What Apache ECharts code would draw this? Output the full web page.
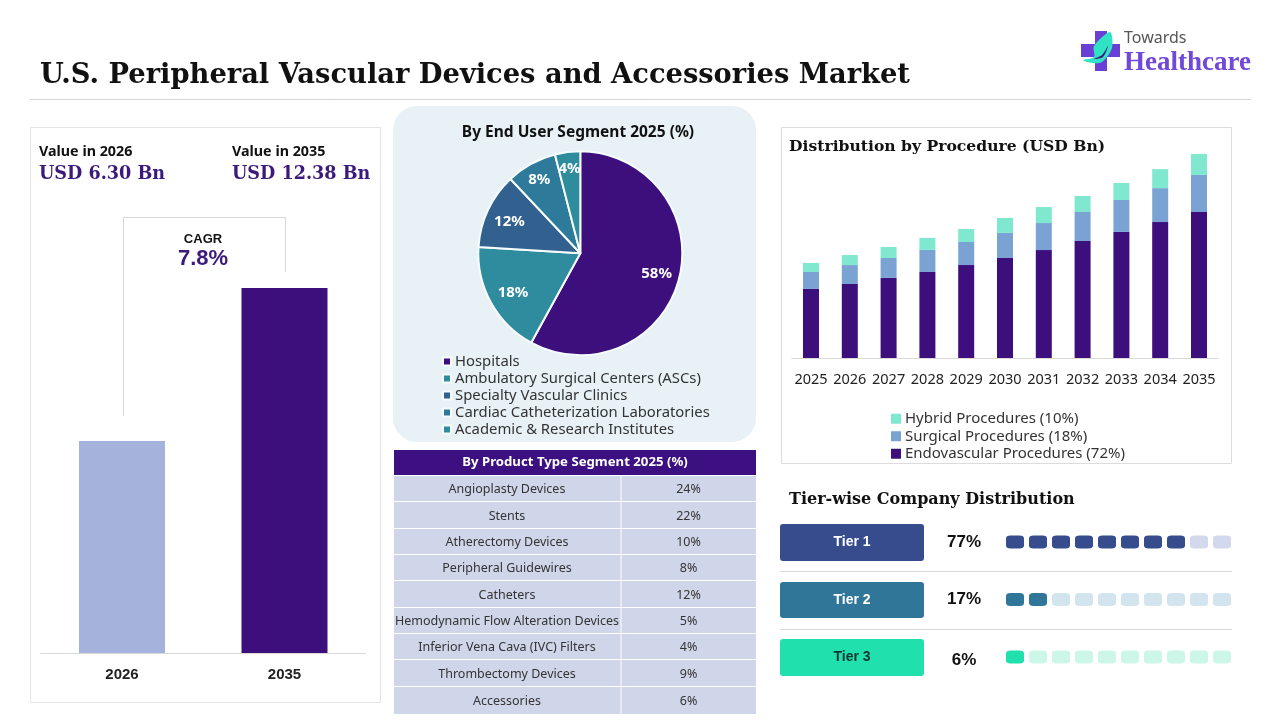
<!DOCTYPE html>
<html>
<head>
<meta charset="utf-8">
<title>U.S. Peripheral Vascular Devices and Accessories Market</title>
<script src="https://cdn.jsdelivr.net/npm/echarts@6/dist/echarts.min.js"></script>
<style>
    html, body { margin: 0; padding: 0; background: #fff; }
    #chart { width: 1280px; height: 720px; }
</style>
</head>
<body>
<div id="chart"></div>
<script>
// left panel. the label says 6.30 but the drawn 2026 bar is taller than that, so read the height off the picture
var marketYears = ['2026', '2035'];
var marketBars = [7.19, 12.38];
var marketColors = ['#a5b3dc', '#3c0f7c'];

// end user pie
var endUserNames = ['Hospitals', 'Ambulatory Surgical Centers (ASCs)', 'Specialty Vascular Clinics', 'Cardiac Catheterization Laboratories', 'Academic & Research Institutes'];
var endUserShares = [58, 18, 12, 8, 4];
var endUserColors = ['#3c0f7c', '#2e8c9e', '#33618f', '#2e7a9a', '#2f8c9c'];
var pieLabelShift = [[24, 7], [-20, 13], [-22, -9], [-15, -26], [-4, -31]];

// product table
var productNames = ['Angioplasty Devices', 'Stents', 'Atherectomy Devices', 'Peripheral Guidewires', 'Catheters', 'Hemodynamic Flow Alteration Devices', 'Inferior Vena Cava (IVC) Filters', 'Thrombectomy Devices', 'Accessories'];
var productShares = ['24%', '22%', '10%', '8%', '12%', '5%', '4%', '9%', '6%'];

// procedure stacked bars
var procYears = ['2025', '2026', '2027', '2028', '2029', '2030', '2031', '2032', '2033', '2034', '2035'];
var endovascular = [4.19, 4.49, 4.86, 5.22, 5.64, 6.07, 6.55, 7.10, 7.65, 8.25, 8.86];
var surgical = [1.03, 1.15, 1.21, 1.34, 1.40, 1.52, 1.64, 1.76, 1.94, 2.06, 2.25];
var hybrid = [0.55, 0.61, 0.67, 0.73, 0.79, 0.91, 0.97, 0.97, 1.03, 1.15, 1.27];

// tiers
var tierNames = ['Tier 1', 'Tier 2', 'Tier 3'];
var tierShares = [77, 17, 6];
var tierFilled = [8, 2, 1];
var tierColors = ['#364c8c', '#2f7698', '#20e0ae'];
var tierLight = ['#d3d9ec', '#d2e4ee', '#ccf6e8'];
var tierSlots = ['1', '2', '3', '4', '5', '6', '7', '8', '9', '10'];

var SANS = '"Noto Sans", sans-serif';
var ARIAL = '"Liberation Sans", sans-serif';
var SERIF = '"DejaVu Serif", serif';
var LOGO_SERIF = '"Liberation Serif", serif';
var PURPLE = '#3c1a7c';

function txt(text, x, y, size, weight, color, family, align) {
    return {
        type: 'text', z: 5, silent: true,
        style: {
            text: text, x: x, y: y, fill: color || '#111',
            fontSize: size, fontWeight: weight || 'normal', fontFamily: family || SANS,
            align: align || 'left', verticalAlign: 'middle'
        }
    };
}
function box(x, y, w, h, fill, stroke, r) {
    return {
        type: 'rect', z: 0, silent: true,
        shape: { x: x, y: y, width: w, height: h, r: r || 0 },
        style: { fill: fill || 'none', stroke: stroke || 'none', lineWidth: stroke ? 1 : 0 }
    };
}
function hline(x1, y1, x2, y2, color) {
    return {
        type: 'line', z: 1, silent: true,
        shape: { x1: x1, y1: y1, x2: x2, y2: y2 },
        style: { stroke: color || '#d9d9d9', lineWidth: 1 }
    };
}
function logoShape(points, color, smooth, z) {
    return { type: 'polygon', z: z, silent: true, shape: { points: points, smooth: smooth }, style: { fill: color } };
}

var graphics = [
    // header
    txt('U.S. Peripheral Vascular Devices and Accessories Market', 40, 76, 27.3, 'bold', '#111', SERIF),
    hline(30, 99.5, 1251, 99.5, '#d4d4d4'),
    // logo
    logoShape([[1095, 31], [1107, 31], [1107, 44], [1120, 44], [1120, 57], [1107, 57], [1107, 71], [1095, 71], [1095, 57], [1081, 57], [1081, 44], [1095, 44]], '#6a3fd6', 0, 5),
    logoShape([[1110, 32], [1112, 48], [1102, 62], [1092, 63], [1083, 60], [1094, 57], [1094, 46]], '#2fe3c4', 0.3, 6),
    logoShape([[1108, 46], [1102, 55], [1094, 59], [1103, 57]], '#3c1a7c', 0.3, 7),
    txt('Towards', 1124, 38, 16, 'normal', '#555', SANS),
    txt('Healthcare', 1124, 63, 27, 'bold', '#7248d8', LOGO_SERIF),

    // left panel
    box(30.5, 127.5, 350, 575, '#fff', '#e4e4e4'),
    txt('Value in 2026', 39, 152, 14.3, 'bold', '#111'),
    txt('USD 6.30 Bn', 39, 174, 17.6, 'bold', PURPLE, SERIF),
    txt('Value in 2035', 232, 152, 14.3, 'bold', '#111'),
    txt('USD 12.38 Bn', 232, 174, 17.6, 'bold', PURPLE, SERIF),
    hline(123.5, 217, 123.5, 416),
    hline(123, 217.5, 286, 217.5),
    hline(285.5, 217, 285.5, 272),
    txt('CAGR', 203, 239, 13, 'bold', '#111', ARIAL, 'center'),
    txt('7.8%', 203, 259, 22, 'bold', PURPLE, ARIAL, 'center'),

    // pie panel
    box(393, 106, 363, 336, '#e8f2f6', null, 24),
    txt('By End User Segment 2025 (%)', 578, 133, 15.5, 'bold', '#111', SANS, 'center'),

    // right panel
    box(781.5, 127.5, 450, 336, '#fff', '#dcdcdc'),
    txt('Distribution by Procedure (USD Bn)', 789, 147, 15.6, 'bold', '#111', SERIF),

    // tier section
    txt('Tier-wise Company Distribution', 789, 500, 16, 'bold', '#111', SERIF),
    hline(780, 571.5, 1232, 571.5),
    hline(780, 629.5, 1232, 629.5)
];

// table, rows are not quite even in the picture
var rowEdges = [475, 501, 528, 554, 580, 607, 633, 659, 686, 714];
graphics.push(box(394, 450, 362, 25, '#3c1080'));
graphics.push(txt('By Product Type Segment 2025 (%)', 575, 462, 13.2, 'bold', '#fff', SANS, 'center'));
productNames.forEach(function (name, i) {
    var top = rowEdges[i], h = rowEdges[i + 1] - top - 1;
    graphics.push(box(394, top + 1, 226.5, h, '#d0d6ea'));
    graphics.push(box(621.5, top + 1, 134.5, h, '#d0d6ea'));
    graphics.push(txt(name, 507, top + h / 2 + 2, 12.5, 'normal', '#333', SANS, 'center'));
    graphics.push(txt(productShares[i], 688.5, top + h / 2 + 2, 12.5, 'normal', '#333', SANS, 'center'));
});

// tier buttons
var tierTops = [524, 582, 639], tierHeights = [37, 36, 37], pctRows = [542, 599, 660];
tierNames.forEach(function (name, i) {
    graphics.push(box(780, tierTops[i], 144, tierHeights[i], tierColors[i], null, 3));
    graphics.push(txt(name, 852, tierTops[i] + 18, 14, 'bold', i == 2 ? '#12352f' : '#fff', ARIAL, 'center'));
    graphics.push(txt(tierShares[i] + '%', 964, pctRows[i], 17, 'bold', '#111', ARIAL, 'center'));
});

var tierDots = [];
tierNames.forEach(function (name, row) {
    tierSlots.forEach(function (slot, col) {
        tierDots.push({
            value: [slot, name],
            itemStyle: { opacity: 1, color: col < tierFilled[row] ? tierColors[row] : tierLight[row] }
        });
    });
});

var option = {
    animation: false,
    backgroundColor: '#fff',
    graphic: graphics,
    grid: [
        { left: 40.75, width: 325, top: 288, height: 365 },
        { left: 791.6, width: 426.8, top: 154, height: 204 },
        { left: 1003.5, width: 230, top: 513.25, height: 172.5 }
    ],
    xAxis: [
        {
            gridIndex: 0, type: 'category', data: marketYears,
            axisTick: { show: false },
            axisLine: { lineStyle: { color: '#d9d9d9' } },
            axisLabel: { margin: 14, fontFamily: ARIAL, fontSize: 15, fontWeight: 'bold', color: '#222' }
        },
        {
            gridIndex: 1, type: 'category', data: procYears,
            axisTick: { show: false },
            axisLine: { lineStyle: { color: '#d9d9d9' } },
            axisLabel: { margin: 14, interval: 0, fontFamily: SANS, fontSize: 14.5, color: '#222' }
        },
        { gridIndex: 2, type: 'category', data: tierSlots, show: false }
    ],
    yAxis: [
        { gridIndex: 0, type: 'value', min: 0, max: 12.38, show: false },
        { gridIndex: 1, type: 'value', min: 0, max: 12.38, show: false },
        { gridIndex: 2, type: 'category', data: tierNames, inverse: true, show: false }
    ],
    legend: [
        {
            data: endUserNames, orient: 'vertical', left: 442, top: 353, itemWidth: 8, itemHeight: 8,
            itemGap: 0, padding: 0, icon: 'rect', selectedMode: false,
            textStyle: { fontFamily: SANS, fontSize: 14.85, color: '#333', height: 17, lineHeight: 17, padding: [0, 0, 0, -1] }
        },
        {
            data: ['Hybrid Procedures (10%)', 'Surgical Procedures (18%)', 'Endovascular Procedures (72%)'],
            orient: 'vertical', left: 891, top: 410, itemWidth: 10, itemHeight: 10,
            itemGap: 0, padding: 0, icon: 'rect', selectedMode: false,
            textStyle: { fontFamily: SANS, fontSize: 15, color: '#333', height: 17.5, lineHeight: 17.5, padding: [0, 0, 0, -1] }
        }
    ],
    series: [
        {
            type: 'bar', xAxisIndex: 0, yAxisIndex: 0, barWidth: 86, silent: true,
            data: marketBars.map(function (v, i) { return { value: v, itemStyle: { color: marketColors[i] } }; })
        },
        {
            type: 'pie', center: [580.3, 253.3], radius: 102, startAngle: 90, silent: true,
            data: endUserNames.map(function (name, i) {
                return { name: name, value: endUserShares[i], itemStyle: { color: endUserColors[i] } };
            }),
            itemStyle: { borderColor: '#f6fbfc', borderWidth: 2 },
            label: {
                position: 'inside', formatter: '{d}%', color: '#fff',
                fontFamily: SANS, fontSize: 15, fontWeight: 'bold'
            },
            labelLayout: function (params) {
                return { dx: pieLabelShift[params.dataIndex][0], dy: pieLabelShift[params.dataIndex][1] };
            }
        },
        { name: 'Endovascular Procedures (72%)', type: 'bar', stack: 'proc', xAxisIndex: 1, yAxisIndex: 1, barWidth: 16, silent: true, data: endovascular, itemStyle: { color: '#3c0f7c' } },
        { name: 'Surgical Procedures (18%)', type: 'bar', stack: 'proc', xAxisIndex: 1, yAxisIndex: 1, barWidth: 16, silent: true, data: surgical, itemStyle: { color: '#7aa3d4' } },
        { name: 'Hybrid Procedures (10%)', type: 'bar', stack: 'proc', xAxisIndex: 1, yAxisIndex: 1, barWidth: 16, silent: true, data: hybrid, itemStyle: { color: '#7fe8cf' } },
        {
            type: 'scatter', xAxisIndex: 2, yAxisIndex: 2, silent: true,
            symbol: 'roundRect', symbolSize: [18, 13], data: tierDots
        }
    ]
};

var chart = echarts.init(document.getElementById('chart'));
chart.setOption(option);
</script>
</body>
</html>
